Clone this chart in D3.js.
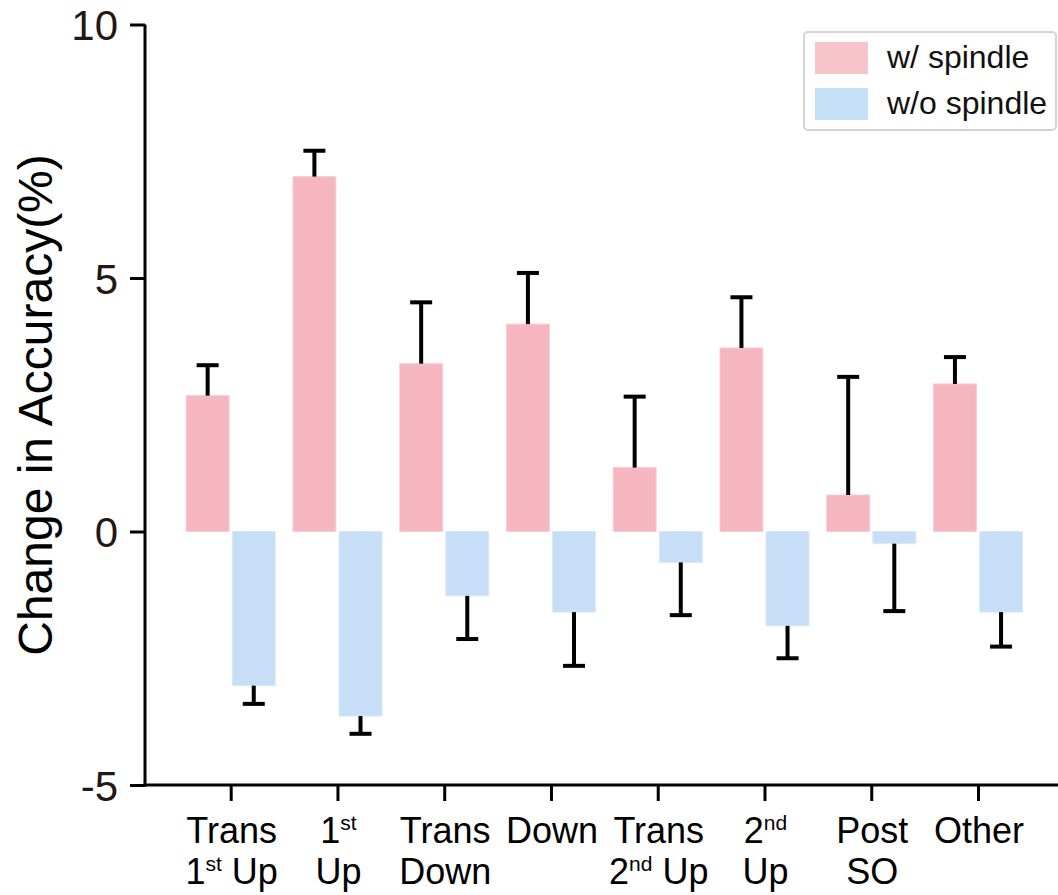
<!DOCTYPE html>
<html>
<head>
<meta charset="utf-8">
<script src="https://cdn.jsdelivr.net/npm/d3@7"></script>
<style>
  html, body { margin: 0; padding: 0; background: #fff; }
  svg { display: block; font-family: "Liberation Sans", Arial, sans-serif; }
</style>
</head>
<body>
<svg id="chart" width="1058" height="895"></svg>
<script>
// ---- data ----
const categories = ["Trans 1st Up", "1st Up", "Trans Down", "Down", "Trans 2nd Up", "2nd Up", "Post SO", "Other"];
// label lines: each line is a list of [text, isSuperscript]
const labelLines = [
  [[["Trans", false]], [["1", false], ["st", true], [" Up", false]]],
  [[["1", false], ["st", true]], [["Up", false]]],
  [[["Trans", false]], [["Down", false]]],
  [[["Down", false]]],
  [[["Trans", false]], [["2", false], ["nd", true], [" Up", false]]],
  [[["2", false], ["nd", true]], [["Up", false]]],
  [[["Post", false]], [["SO", false]]],
  [[["Other", false]]]
];
const series = ["w/ spindle", "w/o spindle"];
const withSpindle      = [2.68, 7.00, 3.31, 4.09, 1.26, 3.62, 0.72, 2.91];
const withSpindleErr   = [3.28, 7.51, 4.52, 5.10, 2.66, 4.62, 3.05, 3.44];
const withoutSpindle   = [-3.04, -3.64, -1.27, -1.59, -0.61, -1.86, -0.24, -1.59];
const withoutSpindleErr= [-3.40, -3.99, -2.12, -2.65, -1.65, -2.50, -1.57, -2.27];
const yTicks = [-5, 0, 5, 10];

// ---- layout ----
const svg = d3.select("#chart");
const W = 1058;
const axisX = 145, axisY = 785, topY = 24.5;

const y = d3.scaleLinear().domain([-5, 10]).range([axisY, topY]);
const x = d3.scalePoint().domain(categories).range([230.7, 978]);
const sub = d3.scaleBand().domain(series).range([-44.5, 44.5]).paddingInner(0.07);

const fills = { "w/ spindle": "#f6b6c0", "w/o spindle": "#c6dff7" };
const strokes = { "w/ spindle": "#f9cbd2", "w/o spindle": "#d6e8f9" };
const legendFills = { "w/ spindle": "#f8c4cc", "w/o spindle": "#c6e0f8" };

const rows = categories.map((c, i) => ({
  cat: c,
  vals: [
    { s: series[0], v: withSpindle[i], e: withSpindleErr[i] },
    { s: series[1], v: withoutSpindle[i], e: withoutSpindleErr[i] }
  ]
}));

// bars
const g = svg.append("g");
const groups = g.selectAll("g.grp").data(rows).enter().append("g")
  .attr("transform", d => `translate(${x(d.cat)},0)`);

groups.selectAll("rect").data(d => d.vals).enter().append("rect")
  .attr("x", d => sub(d.s))
  .attr("width", sub.bandwidth())
  .attr("y", d => y(Math.max(0, d.v)))
  .attr("height", d => Math.abs(y(d.v) - y(0)))
  .attr("fill", d => fills[d.s])
  .attr("stroke", d => strokes[d.s])
  .attr("stroke-width", 1);

// error bars
const capW = 22;
groups.selectAll("g.err").data(d => d.vals).enter().append("g").each(function(d) {
  const cx = sub(d.s) + sub.bandwidth() / 2;
  const el = d3.select(this);
  el.append("line")
    .attr("x1", cx).attr("x2", cx)
    .attr("y1", y(d.v)).attr("y2", y(d.e))
    .attr("stroke", "#000").attr("stroke-width", 4);
  el.append("line")
    .attr("x1", cx - capW / 2).attr("x2", cx + capW / 2)
    .attr("y1", y(d.e)).attr("y2", y(d.e))
    .attr("stroke", "#000").attr("stroke-width", 4);
});

// y axis
const yAxis = d3.axisLeft(y).tickValues(yTicks).tickSize(15).tickPadding(12).tickFormat(d => String(d));
const yg = svg.append("g").attr("transform", `translate(${axisX},0)`).call(yAxis);
yg.select(".domain").attr("stroke", "#000").attr("stroke-width", 3)
  .attr("d", `M0,${topY}V${axisY + 1.5}`);
yg.selectAll(".tick line").attr("stroke", "#000").attr("stroke-width", 3);
yg.selectAll(".tick text")
  .attr("font-size", 42).attr("fill", "#231815")
  .attr("font-family", "'Liberation Sans', Arial, sans-serif")
  .attr("dy", "0.36em");

// x axis
const xAxis = d3.axisBottom(x).tickSize(16).tickSizeOuter(0).tickFormat("");
const xg = svg.append("g").attr("transform", `translate(0,${axisY})`).call(xAxis);
xg.select(".domain").remove();
xg.selectAll(".tick line").attr("stroke", "#000").attr("stroke-width", 3);
xg.append("line").attr("x1", axisX - 1.5).attr("x2", W).attr("y1", 0).attr("y2", 0)
  .attr("stroke", "#000").attr("stroke-width", 3);

// x labels
const baselines = [843, 884];
categories.forEach((c, i) => {
  labelLines[i].forEach((line, li) => {
    const t = svg.append("text")
      .attr("x", x(c) + 1)
      .attr("y", baselines[li])
      .attr("text-anchor", "middle")
      .attr("font-size", 36)
      .attr("fill", "#000");
    let raised = false;
    line.forEach(([txt, sup]) => {
      const ts = t.append("tspan").text(txt);
      if (sup && !raised) { ts.attr("font-size", 21).attr("dy", -13); raised = true; }
      else if (!sup && raised) { ts.attr("dy", 13); raised = false; }
    });
  });
});

// y label
svg.append("text")
  .attr("transform", "translate(52,405) rotate(-90)")
  .attr("text-anchor", "middle")
  .attr("font-size", 48)
  .attr("fill", "#000")
  .text("Change in Accuracy(%)");

// legend
const lg = svg.append("g");
lg.append("rect").attr("x", 804).attr("y", 32).attr("width", 252).attr("height", 98)
  .attr("rx", 4).attr("fill", "#fff").attr("stroke", "#d4d4d4").attr("stroke-width", 2);
series.forEach((s, i) => {
  lg.append("rect").attr("x", 815).attr("y", 42 + i * 46).attr("width", 53).attr("height", 32)
    .attr("fill", legendFills[s]);
  lg.append("text").attr("x", 887).attr("y", 68 + i * 46)
    .attr("font-size", 32).attr("fill", "#111").text(s);
});
</script>
</body>
</html>
